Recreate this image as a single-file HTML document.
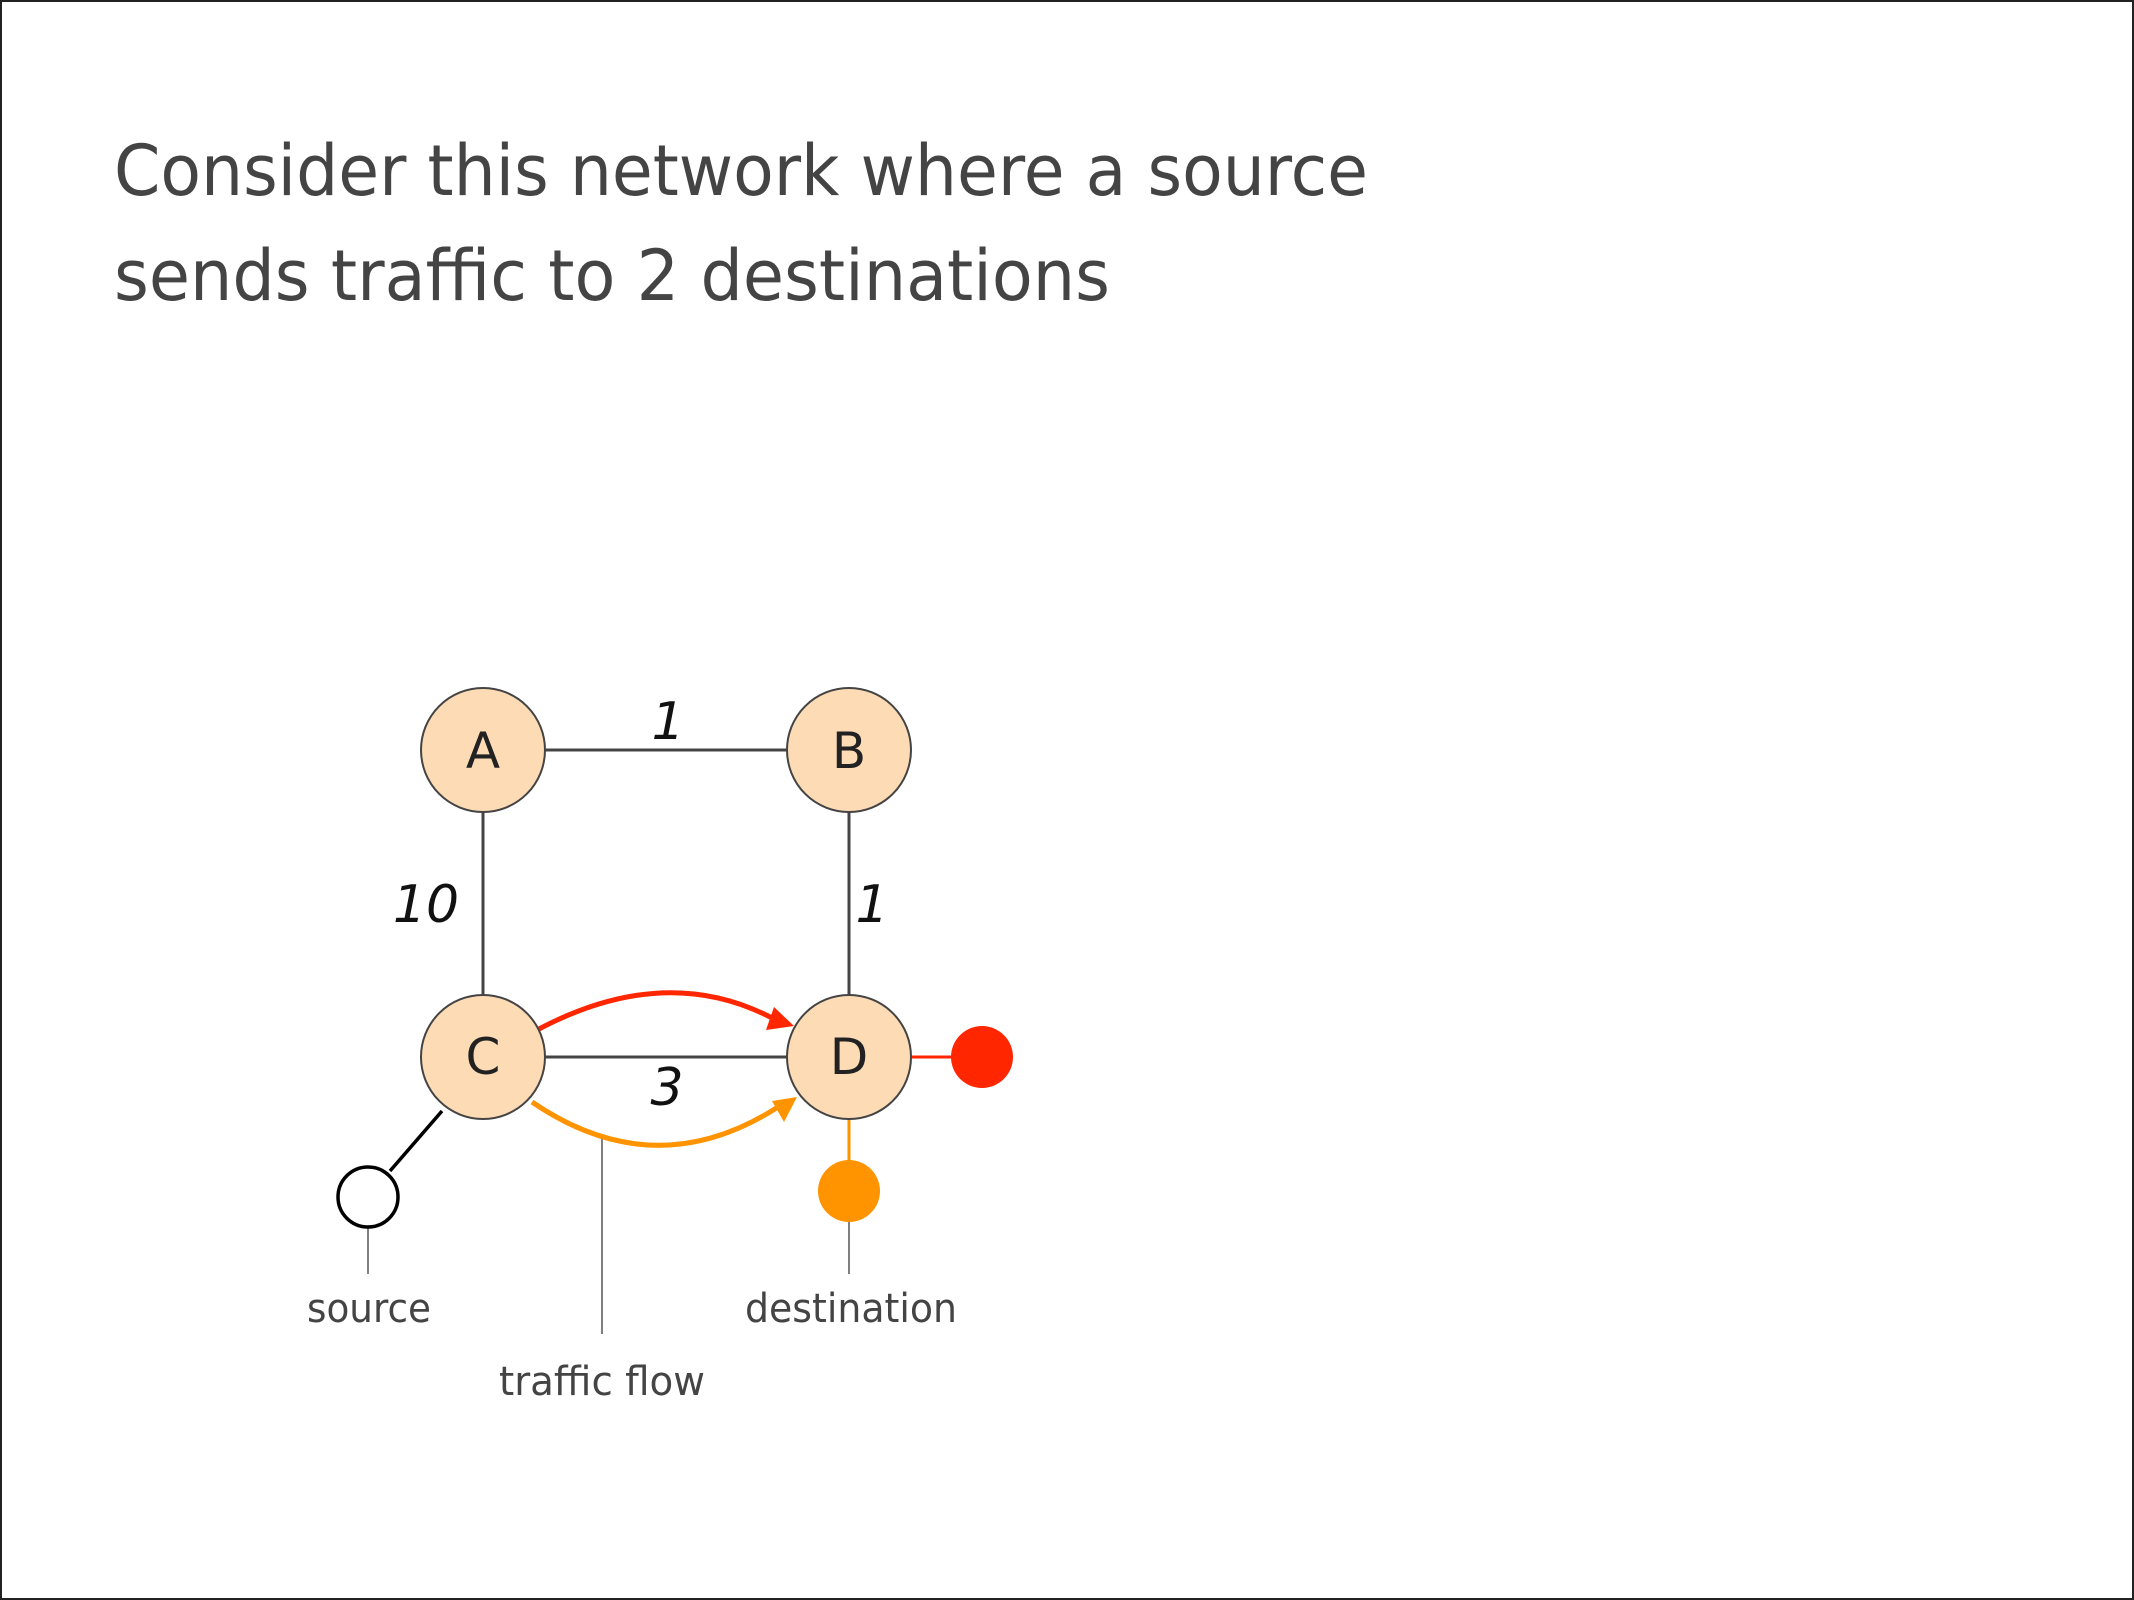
<!DOCTYPE html>
<html><head><meta charset="utf-8"><style>html,body{margin:0;padding:0;background:#fff}svg{display:block}</style></head>
<body>
<svg width="2134" height="1600" viewBox="0 0 2134 1600" xmlns="http://www.w3.org/2000/svg" font-family="'DejaVu Sans','Liberation Sans',sans-serif">
<rect x="1" y="1" width="2132" height="1598" fill="#fff" stroke="#222" stroke-width="2"/>
<g fill="#444" font-size="70">
<text x="114" y="195" textLength="1254" lengthAdjust="spacingAndGlyphs">Consider this network where a source</text>
<text x="114" y="300" textLength="996" lengthAdjust="spacingAndGlyphs">sends traffic to 2 destinations</text>
</g>
<g stroke="#444" stroke-width="3">
<line x1="483" y1="750" x2="849" y2="750"/>
<line x1="483" y1="750" x2="483" y2="1057"/>
<line x1="849" y1="750" x2="849" y2="1057"/>
<line x1="483" y1="1057" x2="849" y2="1057"/>
</g>
<line x1="849" y1="1057" x2="982" y2="1057" stroke="#ff2600" stroke-width="3"/>
<line x1="849" y1="1057" x2="849" y2="1191" stroke="#ff9300" stroke-width="3"/>
<line x1="442" y1="1111" x2="390" y2="1171" stroke="#000" stroke-width="3.5"/>
<g stroke="#555" stroke-width="1.5">
<line x1="368" y1="1228" x2="368" y2="1274"/>
<line x1="849" y1="1222" x2="849" y2="1274"/>
<line x1="602" y1="1137" x2="602" y2="1334"/>
</g>
<path d="M537 1030 Q665 962 772 1018" fill="none" stroke="#ff2600" stroke-width="5"/>
<polygon points="794,1026 766,1030 774,1007" fill="#ff2600"/>
<path d="M532 1102 Q655 1186 778 1107" fill="none" stroke="#ff9300" stroke-width="5"/>
<polygon points="797,1097 784,1122 772,1101" fill="#ff9300"/>
<g fill="#fddcb5" stroke="#444" stroke-width="2">
<circle cx="483" cy="750" r="62"/>
<circle cx="849" cy="750" r="62"/>
<circle cx="483" cy="1057" r="62"/>
<circle cx="849" cy="1057" r="62"/>
</g>
<circle cx="982" cy="1057" r="31" fill="#ff2600"/>
<circle cx="849" cy="1191" r="31" fill="#ff9300"/>
<circle cx="368" cy="1197" r="30" fill="#fff" stroke="#000" stroke-width="3.5"/>
<g fill="#222" font-size="50" text-anchor="middle">
<text x="483" y="768">A</text>
<text x="849" y="768">B</text>
<text x="483" y="1074">C</text>
<text x="849" y="1074">D</text>
</g>
<g fill="#111" font-size="52" font-style="italic" text-anchor="middle">
<text x="668" y="739">1</text>
<text x="426" y="922">10</text>
<text x="872" y="922">1</text>
<text x="667" y="1105">3</text>
</g>
<g fill="#444" font-size="40" text-anchor="middle">
<text x="369" y="1322" textLength="124" lengthAdjust="spacingAndGlyphs">source</text>
<text x="851" y="1322" textLength="212" lengthAdjust="spacingAndGlyphs">destination</text>
<text x="602" y="1395" textLength="206" lengthAdjust="spacingAndGlyphs">traffic flow</text>
</g>
</svg>
</body></html>
